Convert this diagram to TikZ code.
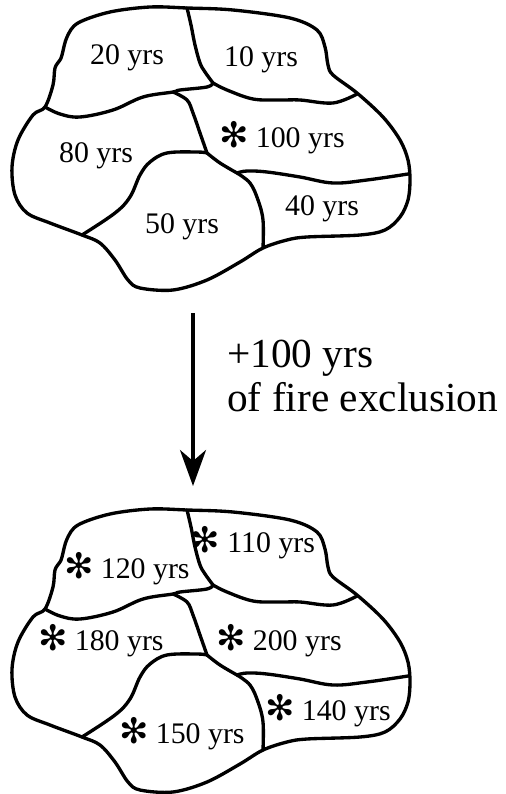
\documentclass[tikz,border=0pt]{standalone}
\usepackage{fontspec}
\setmainfont{Liberation Serif}
\newfontfamily\dingfont{DejaVu Sans}
\usetikzlibrary{arrows.meta}
\newcommand{\fireast}{{\dingfont\fontsize{20}{20}\selectfont ✻}\hspace{4pt}}

\begin{document}
\begin{tikzpicture}[
    x=0.02cm, y=-0.02cm,
    >={Stealth[length=0.72cm, width=0.52cm, inset=0.22cm]},
    % Styles
    border/.style={line width=1.9pt, line join=round, line cap=round},
    age/.style={anchor=base, inner sep=0pt, font=\fontsize{17}{17}\selectfont},
    note/.style={anchor=base west, inner sep=0pt, font=\fontsize{23.5}{28}\selectfont},
    flow/.style={->, line width=2pt}
]
    \useasboundingbox (0,0) rectangle (505,794);

    % --- Stand map (same patches before and after) ---
    \foreach \dy in {0,502} {
      \begin{scope}[shift={(0,\dy)}]
        % outer edge of the stand
        \draw[border] plot[smooth cycle, tension=0.55] coordinates {
            (78,23) (110,12) (150,7) (187,8) (233,10) (290,18) (317,30)
            (325,47) (328,65) (333,75) (357,93) (383,117) (400,140)
            (408,160) (410,180) (408,200) (400,217) (385,230) (360,235)
            (307,237) (287,240) (263,248) (240,262) (207,280) (173,290)
            (140,288) (128,280) (115,260) (100,243) (82,235) (50,223)
            (27,213) (15,195) (12,167) (18,140) (33,115) (45,107)
            (53,85) (55,68) (60,60) (62,55) (67,37)};
        % patch boundaries
        \draw[border] plot[smooth, tension=0.6] coordinates {
            (187,8) (191,25) (195,45) (200,63) (205,72) (213,83)};
        \draw[border] plot[smooth, tension=0.6] coordinates {
            (213,83) (227,90) (253,99) (280,100) (300,100) (333,103) (357,94)};
        \draw[border] plot[smooth, tension=0.6] coordinates {
            (213,83) (207,87) (180,90) (173,92) (143,97) (113,110)
            (80,117) (60,114) (45,107)};
        \draw[border] plot[smooth, tension=0.6] coordinates {
            (173,92) (187,100) (193,113) (200,133) (207,153)};
        \draw[border] plot[smooth, tension=0.6] coordinates {
            (207,153) (197,152) (167,153) (150,162) (140,175) (130,197)
            (115,213) (82,235)};
        \draw[border] plot[smooth, tension=0.6] coordinates {
            (207,153) (220,163) (237,173)};
        \draw[border] plot[smooth, tension=0.6] coordinates {
            (237,173) (247,171) (267,172) (300,177) (333,183) (367,180) (408,174)};
        \draw[border] plot[smooth, tension=0.6] coordinates {
            (237,173) (250,183) (258,200) (263,220) (263,248)};
      \end{scope}
    }

    % --- Ages before ---
    \node[age] (a20) at (127,65) {20 yrs};
    \node[age] (a10) at (261,67) {10 yrs};
    \node[age] (a100) at (282,147) {\fireast 100 yrs};
    \node[age] (a80) at (96,162) {80 yrs};
    \node[age] (a50) at (182,233) {50 yrs};
    \node[age] (a40) at (322,215) {40 yrs};

    % --- Time step ---
    \coordinate (arrowtop) at (193,313);
    \coordinate (arrowtip) at (193,486);
    \draw[flow] (arrowtop) -- (arrowtip);
    \node[note] (step1) at (227,367) {+100 yrs};
    \node[note] (step2) at (227,411) {of fire exclusion};

    % --- Ages after ---
    \node[age] (b110) at (253,552) {\fireast 110 yrs};
    \node[age] (b120) at (127,578) {\fireast 120 yrs};
    \node[age] (b180) at (101,650) {\fireast 180 yrs};
    \node[age] (b200) at (279,650) {\fireast 200 yrs};
    \node[age] (b140) at (328,720) {\fireast 140 yrs};
    \node[age] (b150) at (182,743) {\fireast 150 yrs};
\end{tikzpicture}
\end{document}
